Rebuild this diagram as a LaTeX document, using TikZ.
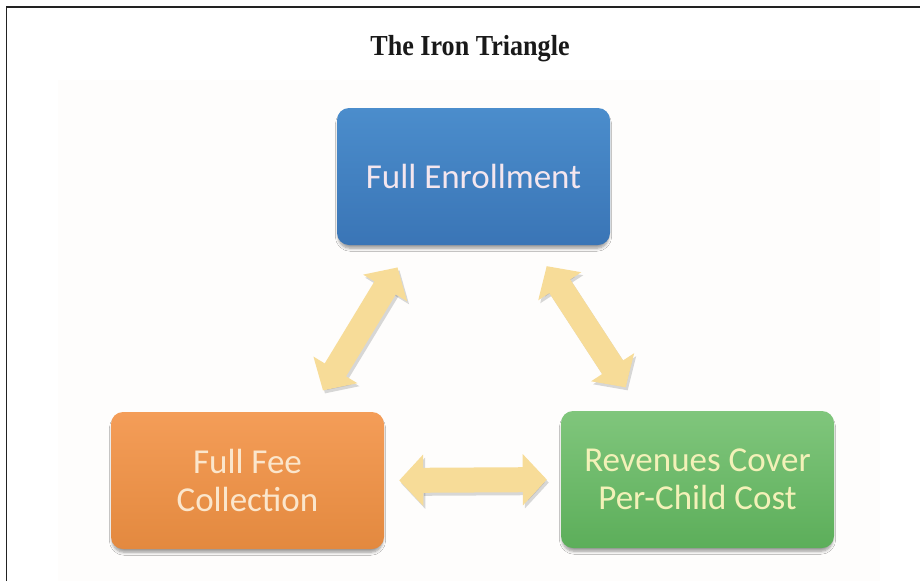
\documentclass[tikz,border=0pt]{standalone}
\usepackage{fontspec}
\setmainfont{Liberation Serif}
\newfontfamily\boxfont{Carlito}
\usetikzlibrary{arrows.meta,shadows,shadows.blur,calc}
\definecolor{framec}{HTML}{222222}
\definecolor{panelc}{HTML}{FEFDFC}
\definecolor{bluetop}{HTML}{4B8DCC}
\definecolor{bluebot}{HTML}{3A75B6}
\definecolor{orgtop}{HTML}{F49D58}
\definecolor{orgbot}{HTML}{E3893F}
\definecolor{grntop}{HTML}{80C67C}
\definecolor{grnbot}{HTML}{5CAE5A}
\definecolor{bluetxt}{HTML}{F4E6EE}
\definecolor{orgtxt}{HTML}{FBE6CC}
\definecolor{grntxt}{HTML}{F3F1B8}
\definecolor{arrowc}{HTML}{F7DC98}
\tikzset{
  box/.style={rounded corners=12pt, minimum width=273pt, minimum height=137pt,
    align=center, inner sep=0pt, font=\boxfont\fontsize{35}{38}\selectfont,
    blur shadow={shadow xshift=0pt, shadow yshift=-4pt, shadow blur steps=6,
      shadow blur radius=3pt, shadow opacity=40, shadow scale=0.99}},
  link/.style={line width=25pt, draw=arrowc,
    {Triangle[width=50pt,length=24pt]}-{Triangle[width=50pt,length=24pt]}},
  linkshadow/.style={line width=25pt, draw=black!60, opacity=0.25,
    {Triangle[width=50pt,length=24pt]}-{Triangle[width=50pt,length=24pt]},
    transform canvas={xshift=2pt,yshift=-3pt}}
}
\begin{document}
\begin{tikzpicture}[x=1pt,y=-1pt]
\useasboundingbox (0,0) rectangle (920,581);
\fill[white] (0,0) rectangle (920,581);
\fill[panelc] (58,80) rectangle (880,581);
\draw[framec, line width=1.6pt] (6.5,581) -- (6.5,7) -- (920,7);

\node[anchor=base, font=\bfseries\fontsize{29}{34}\selectfont, text=black!90] (title) at (470,55)
  {\scalebox{0.9}[1]{The Iron Triangle}};

\node[box, top color=bluetop, bottom color=bluebot, text=bluetxt] (enr) at (473.5,176.5) {Full Enrollment};
\node[box, top color=orgtop, bottom color=orgbot, text=orgtxt] (fee) at (247.5,480.5) {Full Fee\\Collection};
\node[box, top color=grntop, bottom color=grnbot, text=grntxt] (rev) at (697.5,479.5) {Revenues Cover\\Per-Child Cost};

\draw[linkshadow, shorten <=25pt, shorten >=26pt] ([xshift=62.5pt]fee.north) -- ([xshift=-62.5pt]enr.south);
\draw[linkshadow, shorten <=25pt, shorten >=28pt] ([xshift=59.5pt]enr.south) -- ([xshift=-56.5pt]rev.north);
\draw[linkshadow, shorten <=15pt, shorten >=14pt] (fee.east) -- (rev.west);

\draw[link, shorten <=25pt, shorten >=26pt] ([xshift=62.5pt]fee.north) -- ([xshift=-62.5pt]enr.south);
\draw[link, shorten <=25pt, shorten >=28pt] ([xshift=59.5pt]enr.south) -- ([xshift=-56.5pt]rev.north);
\draw[link, shorten <=15pt, shorten >=14pt] (fee.east) -- (rev.west);
\end{tikzpicture}
\end{document}
